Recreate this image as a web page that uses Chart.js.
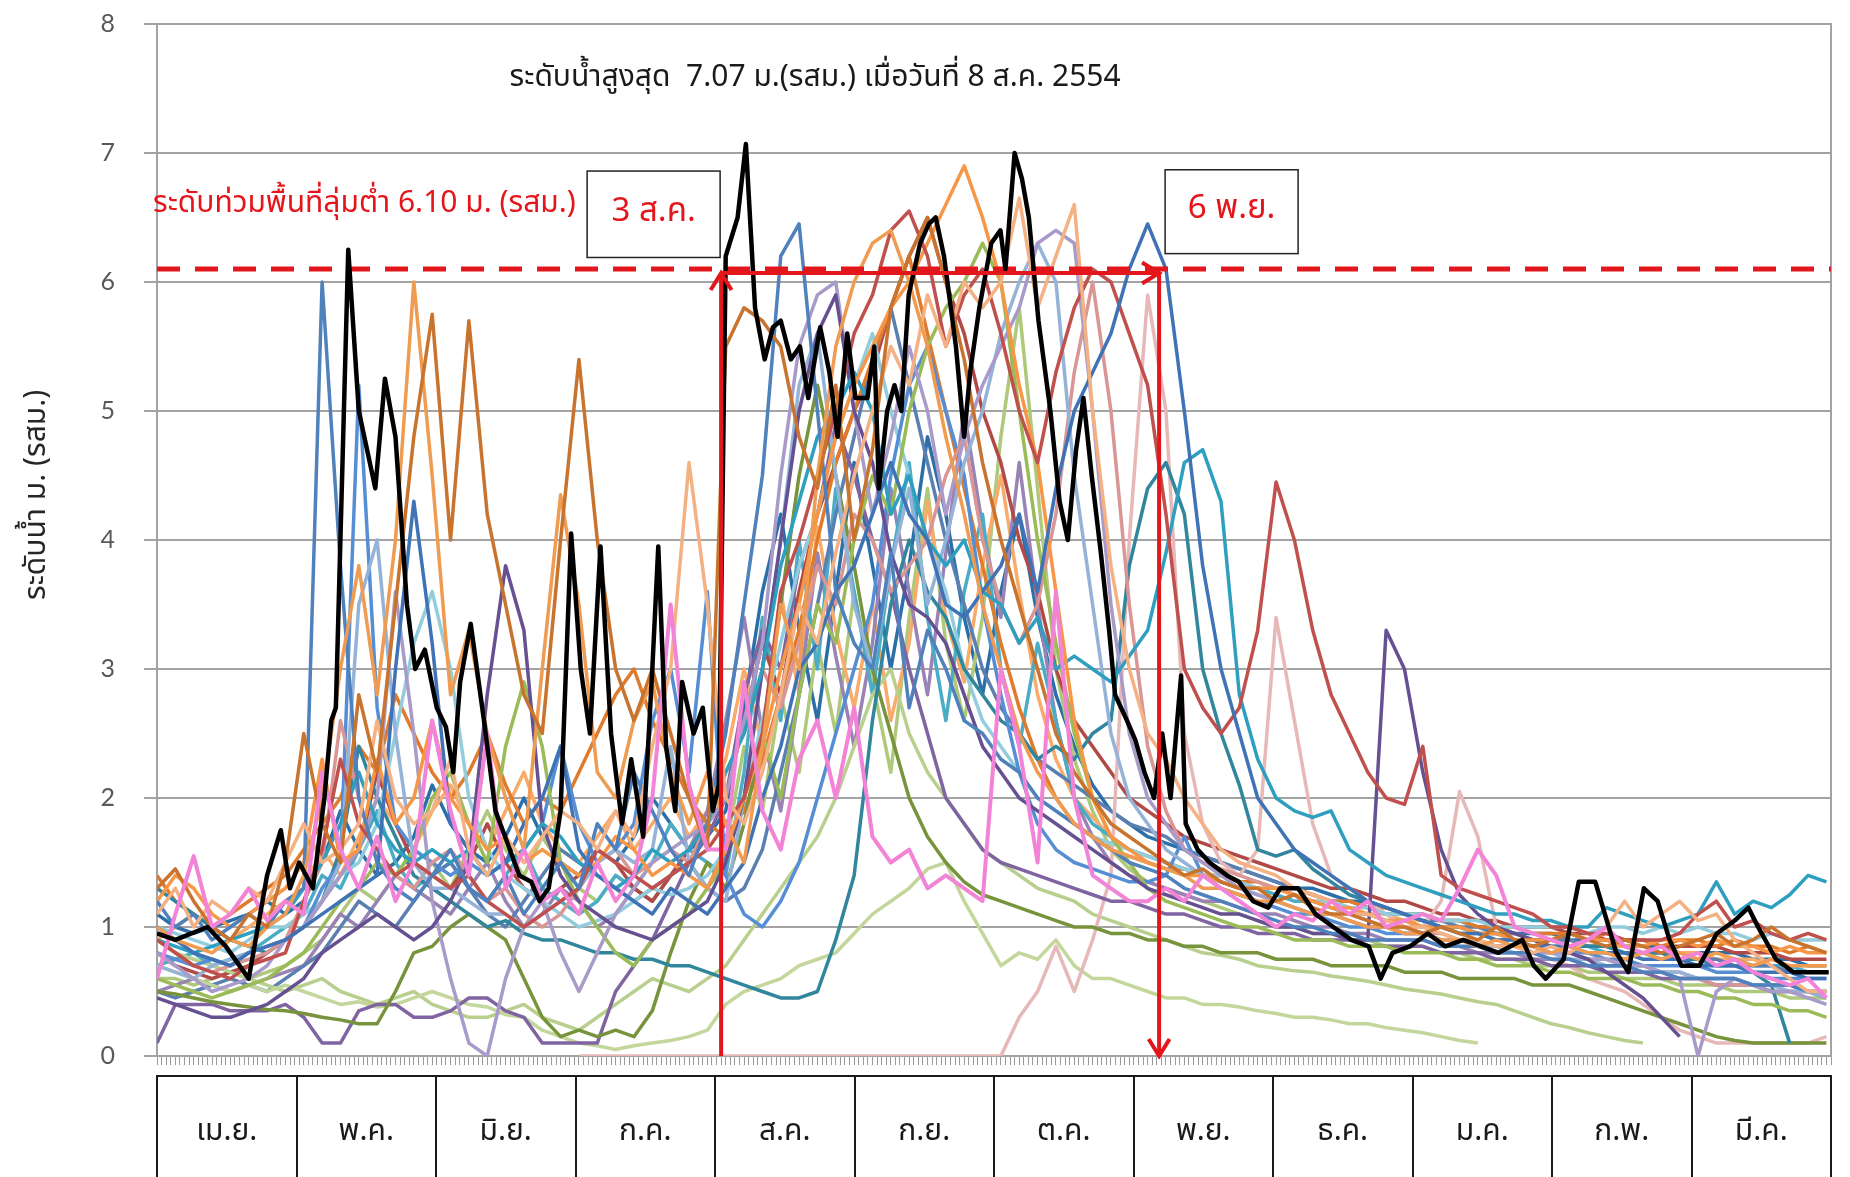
<!DOCTYPE html>
<html><head><meta charset="utf-8">
<script src="https://cdn.jsdelivr.net/npm/chart.js@4.4.1/dist/chart.umd.min.js"></script>
<style>html,body{margin:0;padding:0;background:#fff;}canvas{display:block;}</style>
</head><body>
<canvas id="c" width="1850" height="1177"></canvas>
<script>
// ---------- DATA ----------
const months = ['เม.ย.','พ.ค.','มิ.ย.','ก.ค.','ส.ค.','ก.ย.','ต.ค.','พ.ย.','ธ.ค.','ม.ค.','ก.พ.','มี.ค.'];
const dayCount = 365;           // day 0 = 1 เม.ย.
const sampleStep = 4;           // other years are read every 4 days (day 0,4,...,364)
const yMin = 0, yMax = 8;
const floodLevel = 6.10;
const floodLabel = 'ระดับท่วมพื้นที่ลุ่มต่ำ 6.10 ม. (รสม.)';
const titleText = 'ระดับน้ำสูงสุด  7.07 ม.(รสม.) เมื่อวันที่ 8 ส.ค. 2554';
const yTitle = 'ระดับน้ำ ม. (รสม.)';
const startLabel = '3 ส.ค.', endLabel = '6 พ.ย.';
const startDay = 123, endDay = 218.5, arrowLevel = 6.07;

// year 2554: [day, level]
const s2554 = [[0,0.95],[4,0.9],[11,1.0],[15,0.85],[20,0.6],[24,1.4],[27,1.75],[29,1.3],[31,1.5],[34,1.3],[36.5,2.0],[38,2.6],[39,2.7],[41.7,6.25],[44,5.0],[47.6,4.4],[49.7,5.25],[52,4.8],[54.5,3.5],[56.3,3.0],[58.4,3.15],[61,2.7],[63,2.55],[64.6,2.2],[66.1,2.9],[68.4,3.35],[71.3,2.6],[73.8,1.9],[75.9,1.7],[79,1.4],[81.6,1.35],[83.4,1.2],[85.4,1.3],[88,1.9],[90.3,4.05],[92.4,3.0],[94.4,2.5],[96.7,3.95],[99,2.5],[101.4,1.8],[103.4,2.3],[106,1.7],[108,3.0],[109.3,3.95],[111,2.4],[113,1.9],[114.5,2.9],[117,2.5],[119,2.7],[121.2,1.9],[122.5,2.1],[124,6.2],[126.6,6.5],[128.4,7.07],[130.4,5.8],[132.5,5.4],[134.3,5.65],[136,5.7],[138.2,5.4],[140.2,5.5],[142,5.1],[144.6,5.65],[146.6,5.3],[148.4,4.8],[150.5,5.6],[152.3,5.1],[154.9,5.1],[156.4,5.5],[157.4,4.4],[159.2,5.0],[160.8,5.2],[162.3,5.0],[163.9,5.9],[166.4,6.3],[168.3,6.45],[169.8,6.5],[171.6,6.2],[174.2,5.5],[176,4.8],[177.3,5.3],[179.3,5.8],[181.9,6.3],[183.9,6.4],[185,6.1],[187,7.0],[188.6,6.8],[190.1,6.5],[192.2,5.7],[194.8,5.0],[196.8,4.3],[198.6,4.0],[200.4,4.7],[202,5.1],[203.8,4.5],[205.8,3.9],[207.6,3.3],[208.9,2.8],[211.5,2.6],[213.3,2.45],[215.3,2.2],[217.4,2.0],[219.2,2.5],[221,2.0],[223.3,2.95],[224.3,1.8],[226.9,1.6],[229.5,1.5],[233.3,1.4],[235.9,1.35],[239,1.2],[242.3,1.15],[244.9,1.3],[248.8,1.3],[252.6,1.1],[256.5,1.0],[260.4,0.9],[264.2,0.85],[266.8,0.6],[269.4,0.8],[273.2,0.85],[277.1,0.95],[280.9,0.85],[284.8,0.9],[288.7,0.85],[292.5,0.8],[297.7,0.9],[300.2,0.7],[302.8,0.6],[306.7,0.75],[310,1.35],[313.6,1.35],[315.7,1.1],[318.2,0.8],[320.8,0.65],[324.2,1.3],[327.2,1.2],[329.8,0.9],[332.4,0.7],[336.3,0.7],[340.1,0.95],[344,1.05],[347,1.15],[349.1,1.0],[353,0.75],[356.8,0.65],[364.5,0.65]];

// other years, one value every 4 days (Apr 8, May 8, Jun 7, Jul 8, Aug 8, Sep 7, Oct 8, Nov 7, Dec 8, Jan 8, Feb 7, Mar 8)
const sPink = [0.6,1.1,1.55,1.0,1.1,1.3,1.05,1.2, 1.1,2.2,1.6,1.3,1.7,1.2,1.5,2.6, 1.9,1.4,2.5,1.3,1.6,1.2,1.3, 1.1,1.5,1.2,1.4,2.0,3.5,2.1,1.6, 1.6,2.9,1.9,1.6,2.3,2.6,2.0,2.7, 1.7,1.5,1.6,1.3,1.4,1.3,1.2, 3.0,2.4,1.5,3.6,2.0,1.4,1.3,1.2, 1.2,1.3,1.2,1.4,1.3,1.2,1.1, 1.0,1.1,1.05,1.2,1.1,1.2,1.0,1.05, 1.1,1.05,1.3,1.6,1.4,1.0,0.95,0.9, 0.85,0.9,1.0,0.85,0.8,0.85,0.75, 0.8,0.7,0.75,0.65,0.6,0.55,0.6,0.45];
const sBrown = [1.3,1.45,1.2,1.0,0.9,1.1,1.0,1.5, 2.5,1.8,1.5,2.8,2.2,3.5,4.8,5.75, 4.0,5.7,4.2,3.5,2.8,2.5,4.0, 5.4,4.0,3.0,2.6,3.0,2.5,2.0,1.6, 5.5,5.8,5.7,5.5,4.8,4.4,5.2,4.0, 4.7,5.8,6.2,6.5,6.0,5.4,4.6, 4.0,3.5,3.0,2.5,2.2,2.0,1.8,1.7, 1.6,1.5,1.4,1.45,1.35,1.3,1.3, 1.2,1.25,1.15,1.1,1.1,1.05,1.0,1.0, 0.95,1.0,0.95,0.9,1.0,0.9,0.85,0.9, 0.95,0.9,0.85,0.9,0.85,0.8,0.85, 0.9,0.95,0.85,0.9,1.0,0.9,0.85,0.8];
const sOrange2 = [1.0,0.9,0.85,0.8,0.9,0.85,1.0,1.1, 1.4,2.0,3.0,3.8,2.8,4.0,6.0,4.5, 2.8,3.3,2.5,2.0,1.6,3.0,4.35, 3.5,2.2,2.0,2.6,2.9,2.2,1.8,2.2, 1.8,1.5,2.4,3.5,3.0,4.5,5.5,6.0, 6.3,6.4,6.0,5.5,4.8,4.2,3.5, 3.0,2.5,2.2,2.0,1.8,1.7,1.6,1.55, 1.5,1.45,1.4,1.3,1.3,1.25,1.2, 1.2,1.15,1.1,1.1,1.05,1.0,1.0,0.95, 0.95,0.9,0.9,0.85,0.9,0.85,0.85,0.8, 0.85,0.8,0.8,0.75,0.8,0.75,0.8, 0.75,0.8,0.75,0.7,0.75,0.7,0.7,0.7];
const sPeach = [1.1,1.3,1.0,1.2,1.1,1.3,1.2,1.5, 1.8,1.5,1.6,1.8,2.6,2.0,1.8,1.9, 2.3,1.6,1.4,1.7,1.5,1.7,1.9, 1.8,1.6,1.9,1.7,2.4,3.0,4.6,3.5, 2.0,1.8,2.2,2.8,3.5,3.2,3.9,4.5, 5.0,5.5,5.2,5.9,5.5,6.0,5.8, 6.0,6.65,5.8,6.2,6.6,5.0,3.8,3.0, 2.5,2.3,2.0,1.8,1.6,1.5,1.45, 1.4,1.3,1.25,1.2,1.1,1.1,1.05,1.0, 1.0,0.95,0.9,0.9,0.85,0.85,0.8,0.85, 0.8,0.9,1.0,1.2,1.0,1.1,1.2, 1.05,1.1,0.9,0.8,0.7,0.6,0.5,0.5];
const sBlue1 = [1.2,1.0,1.1,0.9,1.0,1.1,1.0,1.2, 1.3,6.0,3.8,2.0,1.5,1.3,1.2,1.4, 1.6,1.3,1.2,1.4,1.1,1.3,1.5, 1.3,1.8,1.6,2.2,1.9,1.6,1.4,1.8, 2.5,3.5,4.5,6.2,6.45,5.0,3.6,3.2, 3.0,3.9,2.7,3.3,3.0,2.6,2.5, 2.3,2.2,2.0,1.9,1.8,1.7,1.6,1.5, 1.45,1.4,1.3,1.25,1.2,1.15,1.1, 1.05,1.0,1.0,0.95,0.95,0.9,0.9,0.9, 0.9,0.85,0.85,0.85,0.8,0.8,0.8,0.75, 0.75,0.7,0.7,0.7,0.65,0.65,0.6, 0.6,0.6,0.6,0.55,0.55,0.55,0.5,0.5];
const sBlue2 = [1.0,0.9,0.8,0.75,0.7,0.8,0.85,0.9, 1.0,1.1,1.2,1.3,1.4,3.0,4.3,3.2, 1.8,1.6,1.4,1.5,1.8,2.0,2.4, 1.6,1.4,1.3,1.2,1.1,1.3,1.2,1.1, 1.3,1.5,2.0,2.4,3.0,3.2,3.6,3.8, 4.2,4.6,4.2,4.0,3.5,3.4,3.6, 3.8,4.2,3.6,4.4,5.0,5.3,5.6,6.1, 6.45,6.1,5.0,3.8,3.0,2.5,2.0, 1.8,1.6,1.5,1.4,1.3,1.2,1.15,1.1, 1.05,1.0,0.95,0.95,0.9,0.9,0.85,0.85, 0.85,0.8,0.8,0.8,0.75,0.75,0.75, 0.7,0.7,0.7,0.65,0.65,0.65,0.6,0.6];
const sRed = [0.9,0.8,0.7,0.65,0.6,0.7,0.75,0.8, 1.2,1.6,2.3,1.8,1.6,1.4,1.5,1.4, 1.3,1.4,1.2,1.1,1.0,1.1,1.2, 1.3,1.6,1.5,1.4,1.3,1.4,1.5,1.6, 1.8,2.0,2.5,3.6,4.0,4.5,5.0,5.6, 5.9,6.4,6.55,6.2,5.5,5.9,6.1, 5.6,5.0,4.6,5.3,5.8,6.1,6.0,5.6, 5.2,4.2,3.0,2.7,2.5,2.7,3.3, 4.45,4.0,3.3,2.8,2.5,2.2,2.0,1.95, 2.4,1.4,1.3,1.25,1.2,1.15,1.1,1.0, 1.0,0.95,0.95,0.9,0.9,0.9,0.95, 1.1,1.2,1.0,1.05,0.95,0.9,0.95,0.9];
const sOrange = [1.2,1.4,1.3,1.1,1.0,1.1,1.2,1.3, 1.5,2.3,1.5,1.6,2.3,1.8,2.0,2.6, 2.0,1.8,1.6,1.7,1.5,1.6,1.5, 1.4,1.5,1.7,1.6,1.4,1.5,1.4,1.3, 1.6,2.0,2.4,3.0,3.5,4.2,4.8,5.2, 5.5,5.8,6.0,6.3,6.6,6.9,6.5, 6.0,5.2,4.6,3.6,2.6,2.0,1.7,1.6, 1.5,1.45,1.4,1.4,1.35,1.3,1.3, 1.3,1.25,1.2,1.15,1.15,1.1,1.05,1.05, 1.0,1.0,1.0,0.95,0.95,0.9,0.9,0.9, 0.95,0.9,0.9,0.85,0.85,0.9,0.9, 0.85,0.9,0.85,0.85,0.8,0.85,0.8,0.8];
const sAqua = [0.9,0.85,0.8,0.85,0.9,0.95,1.0,1.1, 1.3,1.5,1.8,2.2,1.8,1.6,1.5,1.6, 1.5,1.6,1.4,1.5,1.6,1.8,1.7, 1.5,1.4,1.3,1.4,1.6,1.5,1.6,1.8, 2.2,2.5,3.0,3.8,4.3,4.8,5.0,5.3, 5.0,4.2,4.5,4.0,3.8,4.0,3.6, 3.5,3.2,3.4,3.0,3.1,3.0,2.9,3.1, 3.3,3.9,4.6,4.7,4.3,2.8,2.3, 2.0,1.9,1.85,1.9,1.6,1.5,1.4,1.35, 1.3,1.25,1.2,1.15,1.1,1.1,1.05,1.05, 1.0,1.0,1.15,1.1,1.05,1.0,1.05, 1.1,1.35,1.1,1.2,1.15,1.25,1.4,1.35];
const sPurple = [0.45,0.4,0.35,0.3,0.3,0.35,0.4,0.5, 0.6,0.8,0.9,1.0,1.1,1.0,0.9,1.0, 1.2,1.5,2.8,3.8,3.3,1.8,1.4, 1.2,1.1,1.0,0.95,0.9,1.0,1.1,1.2, 1.5,2.0,3.0,4.0,5.0,5.6,5.9,5.0, 4.6,3.9,3.5,3.4,3.2,2.8,2.4, 2.2,2.0,1.9,1.8,1.7,1.6,1.5,1.4, 1.3,1.25,1.2,1.15,1.1,1.1,1.05, 1.0,1.0,0.95,0.95,0.9,0.9,3.3,3.0, 2.2,1.6,1.25,1.1,1.0,0.95,0.9,0.85, 0.8,0.75,0.65,0.55,0.45,0.3,0.15, null,null,null,null,null,null,null,null];
const sLavender = [0.8,0.7,0.6,0.5,0.55,0.6,0.7,0.9, 1.0,1.2,1.4,1.6,2.0,3.6,2.5,1.2, 0.6,0.1,0.0,0.6,1.0,1.2,0.8, 0.5,0.8,1.1,1.3,1.5,1.6,1.7,1.8, 2.0,2.6,3.2,4.5,5.5,5.9,6.0,5.0, 4.2,4.8,5.5,5.0,4.2,4.8,5.2, 5.5,5.8,6.3,6.4,6.3,5.0,3.5,2.5, 2.0,1.8,1.6,1.5,1.4,1.3,1.25, 1.2,1.15,1.1,1.1,1.05,1.0,1.0,0.95, 0.95,0.9,0.9,0.9,0.85,0.85,0.8,0.8, 0.8,0.75,0.75,0.7,0.7,0.65,0.6, 0.0,0.5,0.6,0.55,0.5,0.5,0.45,0.4];
const sLightBlue = [0.7,0.65,0.6,0.7,0.75,0.8,0.85,0.9, 1.0,1.2,1.5,3.5,4.0,2.5,1.5,1.3, 1.3,1.2,1.1,1.1,1.0,1.1,1.2, 1.3,1.5,1.6,1.5,1.6,2.4,1.5,1.3, 1.2,2.0,3.0,4.0,5.2,5.6,4.5,3.5, 3.0,3.8,4.4,3.5,4.0,4.6,5.0, 5.6,6.0,6.3,6.0,4.5,3.5,2.5,2.0, 1.8,1.6,1.5,1.4,1.35,1.3,1.25, 1.2,1.15,1.1,1.1,1.05,1.0,1.0,0.95, 0.95,0.9,0.9,0.85,0.85,0.8,0.8,0.8, 0.75,0.75,0.7,0.7,0.7,0.65,0.65, 0.6,0.6,0.6,0.55,0.55,0.5,0.5,0.45];
const sGreen = [0.6,0.55,0.5,0.45,0.5,0.55,0.6,0.7, 0.8,1.0,1.2,1.3,1.5,1.4,1.6,2.0, 2.2,1.8,1.5,2.4,2.9,2.4,1.5, 1.2,1.0,0.8,0.7,0.9,1.0,1.1,1.3, 1.5,2.0,2.5,2.0,2.8,3.5,3.2,4.0, 4.5,4.2,5.0,5.5,5.8,6.0,6.3, 6.0,5.0,4.0,3.2,2.5,2.0,1.7,1.5, 1.3,1.2,1.15,1.1,1.05,1.0,1.0, 0.95,0.9,0.9,0.9,0.85,0.85,0.85,0.8, 0.8,0.8,0.75,0.75,0.7,0.7,0.7,0.65, 0.65,0.6,0.6,0.6,0.55,0.55,0.5, 0.5,0.45,0.45,0.4,0.4,0.35,0.35,0.3];
const sRose = [0.9,0.8,0.7,0.65,0.7,0.75,0.8,0.9, 1.2,1.5,2.6,2.0,1.5,1.4,1.3,1.5, 1.6,1.4,1.2,1.3,1.1,1.0,1.1, 1.3,1.5,1.6,1.4,1.5,1.6,1.5,1.8, 2.2,2.5,3.0,2.7,3.2,3.8,3.5,4.2, 4.0,3.6,3.8,4.0,4.5,4.8,4.0, 3.5,3.2,3.5,4.2,5.3,6.0,5.0,3.5, 2.4,1.9,1.6,1.5,1.45,1.4,1.35, 1.3,1.25,1.2,1.15,1.1,1.05,1.0,1.0, 0.95,0.95,0.9,0.9,0.85,0.85,0.85,0.8, 0.8,0.75,0.75,0.7,0.7,0.65,0.6, 0.6,0.55,0.55,0.55,0.5,0.5,0.5,0.5];
const sBlue3 = [0.8,0.75,0.7,0.75,0.7,0.8,0.85,0.9, 1.0,1.3,1.5,5.2,2.7,1.8,1.6,1.5, 1.4,1.5,1.4,1.5,1.6,1.8,2.4, 1.8,1.5,1.6,1.8,2.6,3.0,2.2,3.6, 1.4,1.1,1.0,1.2,1.5,2.0,2.5,3.0, 3.5,4.5,5.2,5.5,5.0,4.5,3.5, 2.8,2.2,1.8,1.6,1.5,1.45,1.4,1.35, 1.35,1.4,1.7,1.4,1.3,1.25,1.2, 1.15,1.1,1.1,1.05,1.0,1.0,0.95,0.95, 0.95,0.9,0.9,0.9,0.85,0.85,0.85,0.8, 0.8,0.8,0.75,0.75,0.7,0.7,0.7, 0.7,0.65,0.65,0.65,0.6,0.6,0.6,0.6];
const sTeal = [1.3,1.2,1.1,1.0,0.9,0.85,0.8,0.9, 1.0,1.2,1.6,2.4,2.0,1.7,1.4,1.3, 1.2,1.1,1.0,1.05,0.95,0.9,0.9, 0.85,0.8,0.8,0.75,0.75,0.7,0.7,0.65, 0.6,0.55,0.5,0.45,0.45,0.5,0.9,1.4, 2.6,3.5,4.0,3.6,3.4,3.0,2.8, 2.6,2.5,2.3,2.4,2.3,2.5,2.6,3.8, 4.4,4.6,4.2,3.0,2.5,2.1,1.6, 1.55,1.6,1.45,1.35,1.25,1.2,1.15,1.1, 1.05,1.0,1.0,0.95,0.95,0.9,0.9,0.9, 0.85,0.85,0.85,0.8,0.8,0.8,0.75, 0.75,0.7,0.7,0.65,0.55,0.1,null,null];
const sLightAqua = [1.0,0.95,0.9,0.85,0.8,0.9,1.0,1.0, 1.1,1.2,1.4,1.5,1.8,2.5,3.2,3.6, 3.0,2.0,1.6,1.4,1.3,1.2,1.1, 1.0,1.05,1.1,1.2,1.3,1.25,1.3,1.4, 1.6,2.0,2.6,3.2,3.8,4.2,4.8,5.2, 5.6,5.0,4.5,4.0,3.6,3.0,2.6, 2.4,2.2,2.0,1.9,1.8,1.7,1.65,1.6, 1.55,1.5,1.45,1.4,1.4,1.35,1.3, 1.3,1.25,1.2,1.2,1.15,1.15,1.1,1.1, 1.1,1.05,1.05,1.05,1.0,1.0,1.0,1.0, 1.0,0.95,1.0,1.0,0.95,1.0,0.95, 1.0,0.95,0.95,0.9,0.95,0.9,0.9,0.9];
const sDarkGreen = [0.5,0.48,0.45,0.42,0.4,0.38,0.36,0.35, 0.33,0.3,0.28,0.25,0.25,0.5,0.8,0.85, 1.0,1.1,1.0,0.9,0.6,0.3,0.15, 0.2,0.15,0.2,0.15,0.35,0.8,1.2,1.5, 1.3,1.8,2.5,3.5,4.5,5.2,4.5,3.8, 3.0,2.5,2.0,1.7,1.5,1.35,1.25, 1.2,1.15,1.1,1.05,1.0,1.0,0.95,0.95, 0.9,0.9,0.85,0.85,0.8,0.8,0.8, 0.75,0.75,0.75,0.7,0.7,0.7,0.7,0.65, 0.65,0.65,0.6,0.6,0.6,0.6,0.55,0.55, 0.55,0.5,0.45,0.4,0.35,0.3,0.25, 0.2,0.15,0.12,0.1,0.1,0.1,0.1,0.1];
const sDarkPurple = [0.1,0.4,0.4,0.4,0.35,0.35,0.35,0.4, 0.3,0.1,0.1,0.35,0.4,0.4,0.3,0.3, 0.35,0.45,0.45,0.35,0.3,0.1,0.1, 0.1,0.1,0.5,0.7,0.9,1.2,1.5,1.7, 2.0,2.8,3.3,3.0,3.8,4.2,4.9,4.5, 4.0,3.6,3.0,2.5,2.0,1.8,1.6, 1.5,1.45,1.4,1.35,1.3,1.25,1.2,1.2, 1.15,1.1,1.1,1.05,1.0,1.0,0.95, 0.95,0.95,0.9,0.9,0.9,0.85,0.85,0.85, 0.85,0.8,0.8,0.8,0.75,0.75,0.75,0.7, 0.7,0.7,0.65,0.65,0.65,0.6,0.6, 0.6,0.55,0.55,0.55,0.5,0.5,0.5,0.45];
const sLightRose = [null,null,null,null,null,null,null,null, null,null,null,null,null,null,null,null, null,null,null,null,null,null,null, 0,0,0,0,0,0,0,0, 0,0,0,0,0,0,0,0, 0,0,0,0,0,0,0, 0,0.3,0.5,0.85,0.5,0.9,1.4,4.0, 5.9,5.0,2.5,1.8,1.5,1.4,1.6, 3.4,2.6,1.8,1.4,1.3,1.2,1.1,1.0, 1.0,1.2,2.05,1.7,1.0,0.9,0.8,0.75, 0.7,0.6,0.55,0.5,0.4,0.3,0.2, 0.15,0.1,0.1,0.1,0.1,0.1,0.1,0.15];
const sLightGreen = [0.7,0.65,0.6,0.55,0.5,0.55,0.5,0.55, 0.5,0.45,0.4,0.42,0.38,0.4,0.45,0.5, 0.45,0.4,0.38,0.32,0.3,0.2,0.15, 0.1,0.08,0.05,0.08,0.1,0.12,0.15,0.2, 0.4,0.5,0.55,0.6,0.7,0.75,0.8,0.95, 1.1,1.2,1.3,1.45,1.5,1.2,0.95, 0.7,0.8,0.75,0.9,0.7,0.6,0.6,0.55, 0.5,0.45,0.45,0.4,0.4,0.38,0.35, 0.33,0.3,0.3,0.28,0.25,0.25,0.22,0.2, 0.18,0.15,0.12,0.1,null,null,null,null, null,null,null,null,null,null,null, null,null,null,null,null,null,null,null];
const sLightGreen2 = [0.9,0.8,0.75,0.7,0.65,0.6,0.55,0.5, 0.55,0.6,0.5,0.45,0.4,0.45,0.5,0.4, 0.35,0.3,0.3,0.35,0.4,0.3,0.25, 0.2,0.3,0.4,0.5,0.6,0.55,0.5,0.6, 0.7,0.9,1.1,1.3,1.5,1.7,2.0,2.4, 2.8,3.0,2.5,2.2,2.0,1.8,1.6, 1.5,1.4,1.3,1.25,1.2,1.1,1.05,1.0, 0.95,0.9,0.85,0.8,0.78,0.75,0.7, 0.68,0.66,0.65,0.62,0.6,0.58,0.55,0.52, 0.5,0.48,0.45,0.42,0.4,0.35,0.3,0.25, 0.22,0.18,0.15,0.12,0.1,null,null, null,null,null,null,null,null,null,null];
const sDarkOrange = [1.4,1.2,1.1,1.0,1.1,1.2,1.3,1.4, 1.6,1.8,2.0,2.4,2.2,2.8,2.5,2.2, 2.0,2.2,2.5,2.1,1.8,2.0,1.9, 2.2,2.5,2.8,3.0,2.6,2.3,2.0,1.8, 1.7,1.9,2.3,2.8,3.3,4.0,4.6,5.0, 5.4,5.8,6.2,5.6,5.0,4.4,3.8, 3.2,2.7,2.3,2.0,1.8,1.7,1.6,1.55, 1.5,1.45,1.45,1.4,1.4,1.35,1.35, 1.3,1.3,1.25,1.2,1.2,1.15,1.15,1.1, 1.1,1.05,1.05,1.0,1.0,1.0,0.95,0.95, 0.95,0.9,0.95,0.9,0.9,0.85,0.9, 0.9,0.85,0.9,0.85,0.85,0.8,0.85,0.8];
const sSteel = [0.5,0.45,0.5,0.55,0.6,0.55,0.5,0.6, 0.7,0.8,1.0,1.2,1.1,1.0,1.2,1.4, 1.5,1.3,1.1,1.0,1.2,1.4,1.6, 1.5,1.4,1.3,1.2,1.3,1.4,1.5,1.3, 1.2,1.3,1.6,2.2,2.8,3.5,4.2,4.8, 5.4,5.8,5.2,4.6,4.0,3.5,3.0, 2.7,2.5,2.3,2.2,2.1,2.0,1.9,1.8, 1.75,1.7,1.6,1.55,1.5,1.45,1.4, 1.35,1.3,1.25,1.2,1.2,1.15,1.1,1.1, 1.05,1.05,1.0,1.0,0.95,0.95,0.9,0.9, 0.9,0.85,0.85,0.8,0.8,0.8,0.75, 0.75,0.75,0.7,0.7,0.7,0.65,0.65,0.65];
const sDarkRed = [0.8,0.7,0.65,0.6,0.65,0.7,0.8,0.9, 1.0,1.2,1.4,1.6,2.2,1.8,1.5,1.4, 1.3,1.5,1.8,1.5,1.3,1.2,1.3, 1.4,1.6,1.5,1.3,1.2,1.4,1.6,1.8, 2.0,2.6,3.2,2.8,3.6,4.2,4.6,5.0, 5.3,5.8,6.2,6.5,6.0,5.6,5.0, 4.6,4.0,3.6,3.0,2.6,2.4,2.2,2.0, 1.9,1.8,1.7,1.65,1.6,1.55,1.5, 1.45,1.4,1.35,1.3,1.3,1.25,1.2,1.2, 1.15,1.1,1.1,1.05,1.05,1.0,1.0,1.0, 0.95,0.95,0.9,0.9,0.9,0.85,0.85, 0.85,0.85,0.8,0.8,0.8,0.75,0.75,0.75];
const sMid1 = [0.7,0.75,0.8,0.7,0.75,0.8,0.9,1.0, 1.1,1.4,1.3,1.6,1.9,1.5,1.3,1.4, 1.5,1.3,1.2,1.4,1.6,1.3,1.2, 1.1,1.2,1.4,1.3,1.5,1.8,1.6,1.5, 1.4,2.2,3.4,2.6,4.0,3.0,4.4,3.6, 2.8,3.8,4.6,3.4,2.6,3.6,4.2, 3.0,2.4,3.2,2.6,2.0,1.8,1.7,1.6, 1.55,1.5,1.45,1.4,1.35,1.3,1.3, 1.25,1.2,1.2,1.15,1.1,1.1,1.05,1.05, 1.0,1.0,0.95,0.95,0.9,0.9,0.9,0.85, 0.85,0.85,0.8,0.8,0.8,0.75,0.75, 0.75,0.7,0.75,0.7,0.7,0.7,0.65,0.65];
const sMid2 = [0.5,0.55,0.6,0.55,0.5,0.55,0.6,0.65, 0.7,0.9,1.1,1.0,1.2,1.4,1.3,1.2, 1.1,1.3,1.5,1.2,1.0,1.1,1.3, 1.2,1.0,1.1,1.3,1.2,1.4,1.6,1.9, 2.6,3.4,2.5,1.9,2.8,3.9,3.1,2.4, 3.2,4.4,3.6,2.8,3.9,5.0,4.1, 3.4,4.6,3.5,2.6,2.0,1.7,1.5,1.4, 1.35,1.3,1.25,1.2,1.2,1.15,1.1, 1.1,1.05,1.0,1.0,0.95,0.95,0.9,0.9, 0.9,0.85,0.85,0.8,0.8,0.8,0.75,0.75, 0.75,0.7,0.7,0.7,0.65,0.65,0.65, 0.6,0.6,0.6,0.55,0.55,0.55,0.5,0.5];
const sMid3 = [0.9,1.0,1.1,1.0,0.9,1.0,1.1,1.2, 1.3,1.6,1.4,1.7,2.0,1.8,1.6,1.9, 2.1,1.8,1.6,1.9,2.2,1.8,1.6, 1.5,1.7,1.9,1.6,1.8,2.0,1.7,1.9, 2.3,3.0,2.4,3.6,2.8,4.1,3.3,2.7, 3.5,2.6,3.2,4.3,3.4,2.9,3.8, 4.5,3.6,2.8,2.3,2.0,1.85,1.7,1.6, 1.55,1.5,1.45,1.4,1.4,1.35,1.3, 1.3,1.25,1.2,1.2,1.15,1.1,1.1,1.05, 1.05,1.0,1.0,0.95,0.95,0.95,0.9,0.9, 0.9,0.85,0.85,0.85,0.8,0.8,0.8, 0.8,0.75,0.75,0.75,0.7,0.7,0.7,0.7];
const sMid4 = [0.6,0.6,0.55,0.6,0.65,0.6,0.65,0.7, 0.8,0.9,1.1,1.3,1.2,1.4,1.6,1.5, 1.3,1.6,1.9,1.6,1.4,1.7,1.5, 1.3,1.2,1.4,1.3,1.2,1.4,1.5,1.3, 1.6,2.4,1.9,2.8,2.2,3.2,2.5,3.6, 2.9,2.2,3.4,4.4,3.2,2.6,3.4, 4.8,5.8,4.4,3.0,2.3,1.9,1.6,1.45, 1.35,1.3,1.25,1.2,1.15,1.1,1.05, 1.0,1.0,0.95,0.95,0.9,0.9,0.85,0.85, 0.85,0.8,0.8,0.75,0.75,0.75,0.7,0.7, 0.7,0.65,0.65,0.6,0.6,0.6,0.55, 0.55,0.55,0.5,0.5,0.5,0.45,0.45,0.45];
const sMid5 = [1.1,1.0,0.95,1.0,1.05,1.1,1.2,1.1, 1.2,1.5,1.9,1.6,1.4,1.5,1.7,2.1, 1.8,1.6,1.5,1.7,2.0,1.7,1.5, 1.4,1.6,1.5,1.7,2.0,1.8,1.6,1.7, 1.9,2.7,3.6,4.2,3.3,2.6,3.6,4.6, 3.8,3.0,3.8,4.8,4.2,3.4,2.8, 3.6,4.2,3.4,2.8,2.4,2.1,1.9,1.8, 1.7,1.65,1.6,1.55,1.5,1.45,1.4, 1.35,1.3,1.3,1.25,1.2,1.2,1.15,1.1, 1.1,1.05,1.05,1.0,1.0,0.95,0.95,0.95, 0.9,0.9,0.9,0.85,0.85,0.85,0.8, 0.8,0.8,0.8,0.75,0.75,0.75,0.7,0.7];

// ---------- STYLE ----------
const RED = '#e3161b';
const toPoints = vals => vals.map((v, i) => [i * sampleStep, v]);
const series = [
  {label:'2554', pts:s2554, color:'#000000', w:4.5},
  {label:'ระดับท่วมพื้นที่ลุ่มต่ำ', pts:[[0,floodLevel],[dayCount,floodLevel]], color:RED, w:5, dash:[23,15]},
  {label:'ปี 1', pts:toPoints(sPink), color:'#f283d6', w:4},
  {label:'ปี 2', pts:toPoints(sBrown), color:'#c8742f'},
  {label:'ปี 3', pts:toPoints(sOrange2), color:'#ef9b52'},
  {label:'ปี 4', pts:toPoints(sPeach), color:'#f4b183'},
  {label:'ปี 5', pts:toPoints(sBlue1), color:'#4f81bd'},
  {label:'ปี 6', pts:toPoints(sBlue2), color:'#3f73b6'},
  {label:'ปี 7', pts:toPoints(sRed), color:'#c0504d'},
  {label:'ปี 8', pts:toPoints(sOrange), color:'#f79646'},
  {label:'ปี 9', pts:toPoints(sAqua), color:'#2f9fc0'},
  {label:'ปี 10', pts:toPoints(sPurple), color:'#665091'},
  {label:'ปี 11', pts:toPoints(sLavender), color:'#a99bc9'},
  {label:'ปี 12', pts:toPoints(sLightBlue), color:'#95b3d7'},
  {label:'ปี 13', pts:toPoints(sGreen), color:'#9bbb59'},
  {label:'ปี 14', pts:toPoints(sRose), color:'#d99694'},
  {label:'ปี 15', pts:toPoints(sBlue3), color:'#558ed5'},
  {label:'ปี 16', pts:toPoints(sTeal), color:'#31859c'},
  {label:'ปี 17', pts:toPoints(sLightAqua), color:'#93cddd'},
  {label:'ปี 18', pts:toPoints(sDarkGreen), color:'#77933c'},
  {label:'ปี 19', pts:toPoints(sDarkPurple), color:'#8064a2'},
  {label:'ปี 20', pts:toPoints(sLightRose), color:'#e6b9b8'},
  {label:'ปี 21', pts:toPoints(sLightGreen), color:'#c3d69b'},
  {label:'ปี 22', pts:toPoints(sLightGreen2), color:'#b8cf8e'},
  {label:'ปี 23', pts:toPoints(sDarkOrange), color:'#e07a2c'},
  {label:'ปี 24', pts:toPoints(sSteel), color:'#5b7fb0'},
  {label:'ปี 25', pts:toPoints(sDarkRed), color:'#b14a47'},
  {label:'ปี 26', pts:toPoints(sMid1), color:'#4bacc6'},
  {label:'ปี 27', pts:toPoints(sMid2), color:'#9983b5'},
  {label:'ปี 28', pts:toPoints(sMid3), color:'#f9ab6b'},
  {label:'ปี 29', pts:toPoints(sMid4), color:'#afc97a'},
  {label:'ปี 30', pts:toPoints(sMid5), color:'#2c6fa8'}
];

const THAI = 'Tahoma, "Noto Sans Thai", "Noto Sans", "DejaVu Sans", sans-serif';
const NUM = 'Lato, "Liberation Sans", sans-serif';
const GRID = '#a3a3a3';

const annotations = {
  id: 'annotations',
  afterDatasetsDraw(chart) {
    const {ctx, scales:{x, y}, chartArea: ca} = chart;
    ctx.save();
    const xs = x.getPixelForValue(startDay), xe = x.getPixelForValue(endDay);
    const ya = y.getPixelForValue(arrowLevel), y0 = y.getPixelForValue(0);
    ctx.strokeStyle = RED; ctx.lineWidth = 4; ctx.lineCap = 'butt';
    ctx.beginPath();
    ctx.moveTo(xs, y0); ctx.lineTo(xs, ya);
    ctx.moveTo(xs, ya); ctx.lineTo(xe, ya);
    ctx.moveTo(xe, ya); ctx.lineTo(xe, y0);
    ctx.stroke();
    const head = (px, py, ang) => {
      const L = 20, a = 0.55;
      ctx.beginPath();
      ctx.moveTo(px - L*Math.cos(ang - a), py - L*Math.sin(ang - a));
      ctx.lineTo(px, py);
      ctx.lineTo(px - L*Math.cos(ang + a), py - L*Math.sin(ang + a));
      ctx.stroke();
    };
    head(xs, ya, -Math.PI/2);
    head(xe, ya, 0);
    head(xe, y0, Math.PI/2);
    const box = (x1, x2, yTop, yBot, text) => {
      ctx.fillStyle = '#fff';
      ctx.fillRect(x1, yTop, x2 - x1, yBot - yTop);
      ctx.strokeStyle = '#222'; ctx.lineWidth = 1.5;
      ctx.strokeRect(x1, yTop, x2 - x1, yBot - yTop);
      ctx.fillStyle = RED; ctx.font = '33px ' + THAI;
      ctx.textAlign = 'center'; ctx.textBaseline = 'middle';
      ctx.fillText(text, (x1 + x2) / 2, (yTop + yBot) / 2);
    };
    box(xs - 134, xs - 1, y.getPixelForValue(6.86), y.getPixelForValue(6.19), startLabel);
    box(xe + 6, xe + 139, y.getPixelForValue(6.87), y.getPixelForValue(6.22), endLabel);
    ctx.fillStyle = RED; ctx.font = '30px ' + THAI;
    ctx.textAlign = 'left'; ctx.textBaseline = 'middle';
    ctx.fillText(floodLabel, ca.left - 4, y.getPixelForValue(6.59));
    ctx.fillStyle = '#1a1a1a'; ctx.font = '30px ' + THAI;
    ctx.textAlign = 'center';
    ctx.fillText(titleText, x.getPixelForValue(143.5), y.getPixelForValue(7.57));
    ctx.translate(39, y.getPixelForValue(4.35));
    ctx.rotate(-Math.PI/2);
    ctx.fillStyle = '#262626'; ctx.font = '30px ' + THAI;
    ctx.fillText(yTitle, 0, 0);
    ctx.restore();
  }
};

new Chart(document.getElementById('c'), {
  type: 'line',
  data: {
    datasets: series.map(s => ({
      label: s.label, data: s.pts, borderColor: s.color, backgroundColor: s.color,
      borderWidth: s.w || 3.5, borderDash: s.dash || [], pointRadius: 0, pointHoverRadius: 0,
      tension: 0, fill: false, borderJoinStyle: 'round', borderCapStyle: 'butt', spanGaps: false
    }))
  },
  options: {
    responsive: false, animation: false, devicePixelRatio: 1,
    layout: {padding: {top: 24, right: 0, bottom: 0, left: 0}},
    plugins: {legend: {display: false}, tooltip: {enabled: false}, title: {display: false}},
    scales: {
      x: {
        type: 'linear', position: 'bottom', min: 0, max: dayCount, weight: 0,
        ticks: {display: false, stepSize: 1, autoSkip: false},
        grid: {drawOnChartArea: false, drawTicks: true, tickLength: 9, color: '#9a9a9a', lineWidth: 1},
        border: {display: true, color: GRID, width: 2},
        afterFit: s => { s.height = 20; }
      },
      xm: {
        type: 'category', labels: months, position: 'bottom', offset: true, weight: 1,
        ticks: {autoSkip: false, maxRotation: 0, padding: -100, color: '#1a1a1a', font: {family: THAI, size: 30}},
        grid: {offset: true, drawOnChartArea: false, drawTicks: true, tickLength: 140, color: '#1a1a1a', lineWidth: 2},
        border: {display: true, color: '#1a1a1a', width: 2},
        afterFit: s => { s.height = 101; }
      },
      y: {
        type: 'linear', position: 'left', min: yMin, max: yMax,
        ticks: {stepSize: 1, padding: 29, color: '#595959', font: {family: NUM, size: 25}},
        grid: {color: GRID, lineWidth: 2, tickLength: 13},
        border: {display: true, color: GRID, width: 2},
        afterFit: s => { s.width = 157; s.paddingTop = 10; s.paddingBottom = 10; }
      },
      yR: {
        type: 'linear', position: 'right', min: yMin, max: yMax,
        ticks: {display: false}, grid: {display: false},
        border: {display: true, color: GRID, width: 2},
        afterFit: s => { s.width = 19; s.paddingTop = 0; s.paddingBottom = 0; }
      }
    }
  },
  plugins: [annotations]
});
</script>
</body></html>
